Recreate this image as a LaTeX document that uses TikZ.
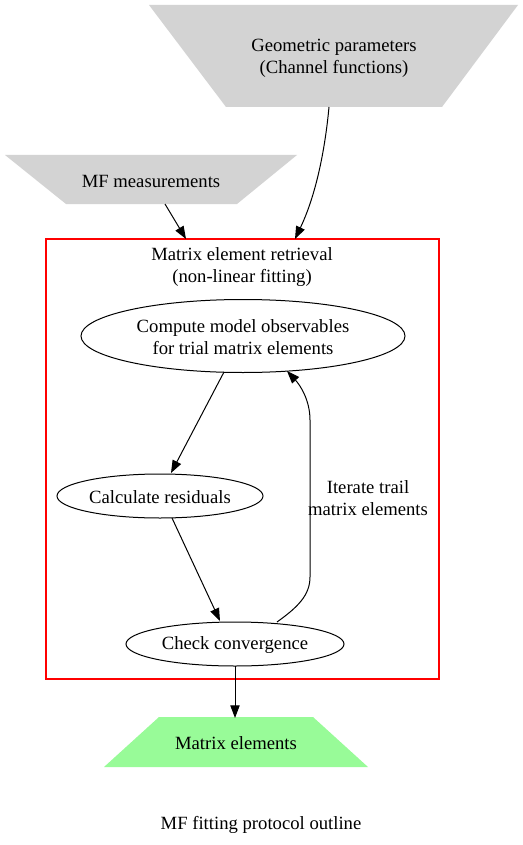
\documentclass[tikz,border=0pt]{standalone}
\usepackage{fontspec}
\setmainfont{Liberation Serif}
\usetikzlibrary{arrows.meta}
\definecolor{lgray}{HTML}{D3D3D3}
\definecolor{pgreen}{HTML}{98FB98}
\definecolor{cred}{HTML}{FF0000}
\begin{document}
\begin{tikzpicture}[x=0.75pt,y=-0.75pt,
  txt/.style={font=\fontsize{14pt}{16.5pt}\selectfont, align=center, inner sep=0pt},
  edge/.style={line width=0.75pt, -{Triangle[length=9.5pt,width=7pt]}}]
\useasboundingbox (0,0) rectangle (523,845);
% shapes
\fill[lgray] (149,5) -- (518,5) -- (442,107) -- (226,107) -- cycle;
\fill[lgray] (5,155) -- (297,155) -- (237,204) -- (66,204) -- cycle;
\fill[pgreen] (159,717) -- (313,717) -- (368,767) -- (104,767) -- cycle;
\draw[draw=cred, line width=1pt] (46,239) -- (439,239) -- (439,679) -- (46,679) -- cycle;
% texts
\node[txt] (geo) at (334,58) {Geometric parameters\\(Channel functions)};
\node[txt] (mf) at (151,181) {MF measurements};
\node[txt] (clab) at (242,267) {Matrix element retrieval\\(non-linear fitting)};
\node[txt] (me) at (236,743) {Matrix elements};
\node[txt] (cap) at (261,825) {MF fitting protocol outline};
\draw[line width=0.75pt] (243,336) ellipse [x radius=162, y radius=36.5];
\node[txt] (cmp) at (243,337) {Compute model observables\\for trial matrix elements};
\draw[line width=0.75pt] (160,496) ellipse [x radius=103, y radius=22];
\node[txt] (res) at (160,497) {Calculate residuals};
\draw[line width=0.75pt] (235,644) ellipse [x radius=109, y radius=22];
\node[txt] (chk) at (235,645) {Check convergence};
\node[txt] (itl) at (368,498) {Iterate trail\\matrix elements};
% anchor coordinates
\coordinate (geoB) at (329,107);
\coordinate (mfB) at (165,204);
\coordinate (cTop1) at (295,239);
\coordinate (cTop2) at (186,239);
\coordinate (cmpB) at (224,372);
\coordinate (cmpR) at (287,371);
\coordinate (resT) at (171,473);
\coordinate (resB) at (172,518);
\coordinate (chkT) at (220,621);
\coordinate (chkR) at (277,622);
\coordinate (chkB) at (235,666);
\coordinate (meT) at (235,718);
% edges
\draw[edge] (geoB) .. controls (325,150) and (316,195) .. (cTop1);
\draw[edge] (mfB) -- (cTop2);
\draw[edge] (cmpB) -- (resT);
\draw[edge] (resB) -- (chkT);
\draw[edge] (chkR) .. controls (298,607) and (310,595) .. (310,577) -- (310,420) .. controls (310,400) and (300,385) .. (cmpR);
\draw[edge] (chkB) -- (meT);
\end{tikzpicture}
\end{document}
